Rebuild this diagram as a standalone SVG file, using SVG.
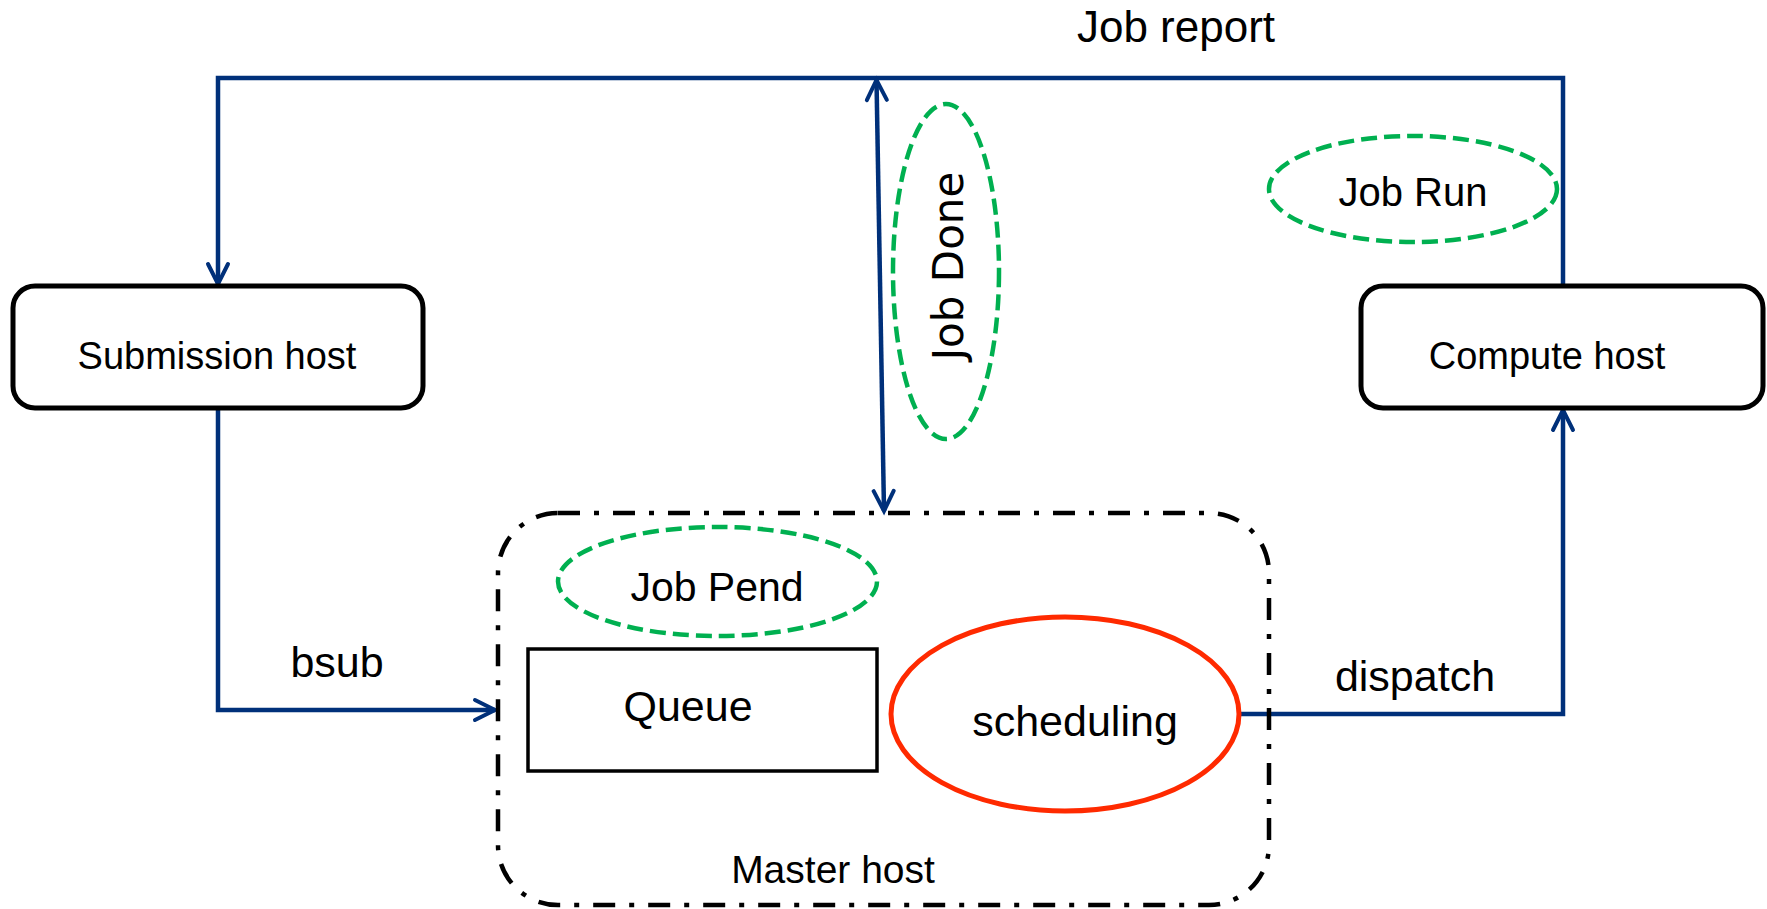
<svg xmlns="http://www.w3.org/2000/svg" width="1767" height="909" viewBox="0 0 1767 909">
  <style>
    .lbl { font-family: "Liberation Sans", Arial, sans-serif; fill: #000; text-anchor: middle; }
    .host { fill: #fff; stroke: #000; stroke-width: 5; }
    .state { fill: none; stroke: #00B050; stroke-width: 4.5; stroke-dasharray: 16 7; }
    .conn { fill: none; stroke: #00307A; stroke-width: 4.5; stroke-linejoin: miter; }
  </style>
  <defs>
    <marker id="head" markerUnits="userSpaceOnUse" orient="auto-start-reverse" refX="0" refY="0" markerWidth="30" markerHeight="30" viewBox="-24 -15 30 30" overflow="visible">
      <path d="M -20 -10 L 0 0 L -20 10" fill="none" stroke="#00307A" stroke-width="4" stroke-linecap="round" stroke-linejoin="miter"/>
    </marker>
  </defs>
  <rect width="1767" height="909" fill="#fff"/>

  <!-- connectors -->
  <g id="connectors">
    <!-- job report: compute host back to submission host -->
    <path class="conn" d="M 1563 286 L 1563 78 L 218 78 L 218 284" marker-end="url(#head)"/>
    <!-- job done: master host to report line -->
    <path class="conn" d="M 876.5 80 L 884 511" stroke-width="3.5" marker-start="url(#head)" marker-end="url(#head)"/>
    <!-- bsub -->
    <path class="conn" d="M 218 408 L 218 710 L 495 710" marker-end="url(#head)"/>
    <!-- dispatch -->
    <path class="conn" d="M 1240 714 L 1563 714 L 1563 410" marker-end="url(#head)"/>
    <text class="lbl" x="1176" y="42" font-size="44">Job report</text>
    <text class="lbl" x="337" y="677" font-size="43">bsub</text>
    <text class="lbl" x="1415" y="691" font-size="43">dispatch</text>
  </g>

  <g id="submission-host">
    <rect class="host" x="13" y="286" width="410" height="122" rx="22"/>
    <text class="lbl" x="217" y="369" font-size="38">Submission host</text>
  </g>

  <g id="compute-host">
    <rect class="host" x="1361" y="286" width="402" height="122" rx="22"/>
    <text class="lbl" x="1547" y="369" font-size="38">Compute host</text>
  </g>

  <g id="master-host">
    <rect x="498" y="513" width="771" height="392" rx="60" fill="none" stroke="#000" stroke-width="4.5" stroke-dasharray="22 14 5 14"/>
    <text class="lbl" x="833" y="883" font-size="39">Master host</text>
  </g>

  <g id="queue">
    <rect x="528" y="649" width="349" height="122" fill="#fff" stroke="#000" stroke-width="3.5"/>
    <text class="lbl" x="688" y="721" font-size="43">Queue</text>
  </g>

  <g id="scheduling">
    <ellipse cx="1065" cy="714" rx="174" ry="97" fill="#fff" stroke="#FF2A00" stroke-width="5"/>
    <text class="lbl" x="1075" y="736" font-size="43">scheduling</text>
  </g>

  <g id="job-pend">
    <ellipse class="state" cx="717.5" cy="581.5" rx="159.5" ry="54.5"/>
    <text class="lbl" x="717" y="601" font-size="41">Job Pend</text>
  </g>

  <g id="job-run">
    <ellipse class="state" cx="1413" cy="189" rx="144" ry="53"/>
    <text class="lbl" x="1413" y="206" font-size="40">Job Run</text>
  </g>

  <g id="job-done">
    <ellipse class="state" cx="946" cy="271.5" rx="53" ry="167.5"/>
    <text x="0" y="0" transform="translate(963 266) rotate(-90)" font-family="'DejaVu Sans', Verdana, sans-serif" font-size="42" text-anchor="middle" fill="#000">Job Done</text>
  </g>
</svg>
